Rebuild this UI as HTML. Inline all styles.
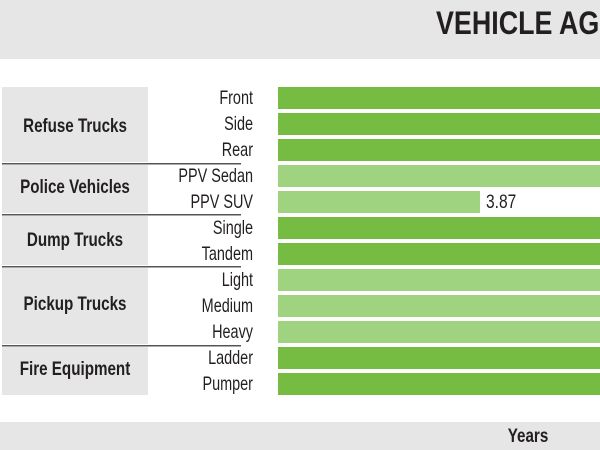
<!DOCTYPE html>
<html><head><meta charset="utf-8"><style>
html,body{margin:0;padding:0;background:#fff;}
svg{display:block;}
text{font-family:"Liberation Sans",sans-serif;fill:#231f20;}
</style></head><body>
<svg width="600" height="450" viewBox="0 0 600 450">
<rect x="0" y="0" width="600" height="59" fill="#e6e6e6"/>
<g transform="translate(436,34) scale(0.84,1)"><text x="0" y="0" font-size="32" font-weight="bold">VEHICLE AGE</text></g>
<rect x="0" y="422" width="600" height="28" fill="#e6e6e6"/>
<g transform="translate(528,442) scale(0.8,1)"><text x="0" y="0" font-size="19" font-weight="bold" text-anchor="middle">Years</text></g>
<rect x="2" y="87" width="146" height="75" fill="#e6e6e6"/>
<rect x="2" y="165" width="146" height="48" fill="#e6e6e6"/>
<rect x="2" y="216" width="146" height="49" fill="#e6e6e6"/>
<rect x="2" y="268" width="146" height="76" fill="#e6e6e6"/>
<rect x="2" y="347" width="146" height="48" fill="#e6e6e6"/>
<g fill="#555">
<rect x="2" y="163" width="239" height="1.5"/>
<rect x="2" y="214" width="239" height="1.5"/>
<rect x="2" y="266" width="239" height="1.5"/>
<rect x="2" y="345" width="239" height="1.5"/>
</g>
<g font-size="19" font-weight="bold">
<g transform="translate(75,132) scale(0.8,1)"><text text-anchor="middle">Refuse Trucks</text></g>
<g transform="translate(75,193) scale(0.8,1)"><text text-anchor="middle">Police Vehicles</text></g>
<g transform="translate(75,246) scale(0.8,1)"><text text-anchor="middle">Dump Trucks</text></g>
<g transform="translate(75,310) scale(0.8,1)"><text text-anchor="middle">Pickup Trucks</text></g>
<g transform="translate(75,375) scale(0.8,1)"><text text-anchor="middle">Fire Equipment</text></g>
</g>
<g font-size="19">
<g transform="translate(253,104) scale(0.76,1)"><text text-anchor="end">Front</text></g>
<g transform="translate(253,130) scale(0.76,1)"><text text-anchor="end">Side</text></g>
<g transform="translate(253,156) scale(0.76,1)"><text text-anchor="end">Rear</text></g>
<g transform="translate(253,182) scale(0.76,1)"><text text-anchor="end">PPV Sedan</text></g>
<g transform="translate(253,208) scale(0.76,1)"><text text-anchor="end">PPV SUV</text></g>
<g transform="translate(253,234) scale(0.76,1)"><text text-anchor="end">Single</text></g>
<g transform="translate(253,260) scale(0.76,1)"><text text-anchor="end">Tandem</text></g>
<g transform="translate(253,286) scale(0.76,1)"><text text-anchor="end">Light</text></g>
<g transform="translate(253,312) scale(0.76,1)"><text text-anchor="end">Medium</text></g>
<g transform="translate(253,338) scale(0.76,1)"><text text-anchor="end">Heavy</text></g>
<g transform="translate(253,364) scale(0.76,1)"><text text-anchor="end">Ladder</text></g>
<g transform="translate(253,390) scale(0.76,1)"><text text-anchor="end">Pumper</text></g>
<g transform="translate(486,208) scale(0.82,1)"><text>3.87</text></g>
</g>
<g>
<rect x="278" y="87" width="322" height="22" fill="#76bc43"/>
<rect x="278" y="113" width="322" height="22" fill="#76bc43"/>
<rect x="278" y="139" width="322" height="22" fill="#76bc43"/>
<rect x="278" y="165" width="322" height="22" fill="#a0d380"/>
<rect x="278" y="191" width="202" height="22" fill="#a0d380"/>
<rect x="278" y="217" width="322" height="22" fill="#76bc43"/>
<rect x="278" y="243" width="322" height="22" fill="#76bc43"/>
<rect x="278" y="269" width="322" height="22" fill="#a0d380"/>
<rect x="278" y="295" width="322" height="22" fill="#a0d380"/>
<rect x="278" y="321" width="322" height="22" fill="#a0d380"/>
<rect x="278" y="347" width="322" height="22" fill="#76bc43"/>
<rect x="278" y="373" width="322" height="22" fill="#76bc43"/>
</g>
</svg>
</body></html>
